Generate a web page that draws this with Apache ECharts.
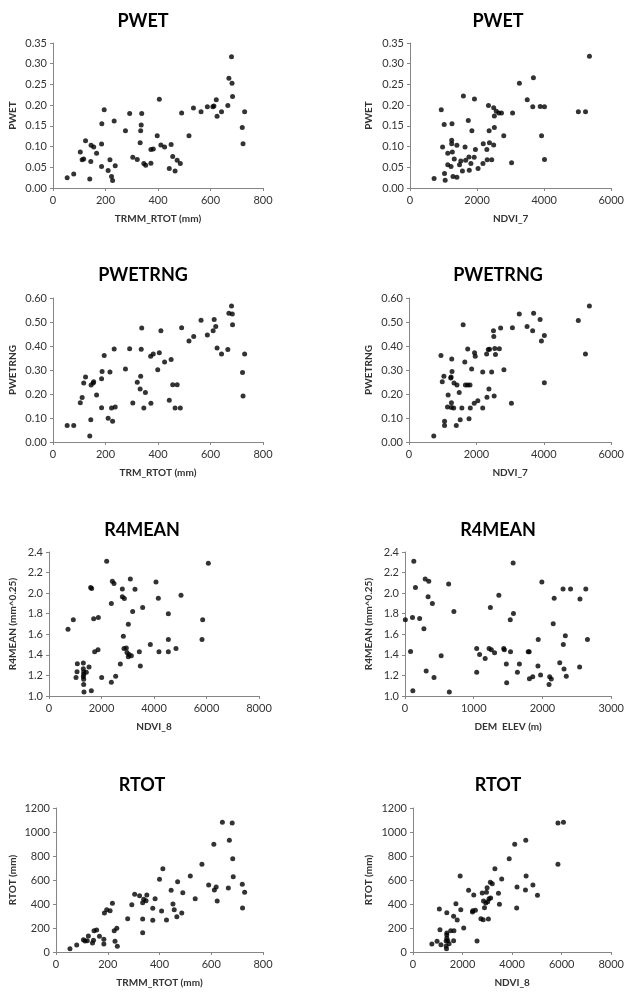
<!DOCTYPE html>
<html>
<head>
<meta charset="utf-8">
<script src="https://cdn.jsdelivr.net/npm/echarts@6/dist/echarts.min.js"></script>
<style>
html, body { margin: 0; padding: 0; background: #fff; }
#main { width: 627px; height: 992px; }
</style>
</head>
<body>
<div id="main"></div>
<script>
// panel titles and axis names
var titles = ['PWET', 'PWET', 'PWETRNG', 'PWETRNG', 'R4MEAN', 'R4MEAN', 'RTOT', 'RTOT'];
var xNames = ['TRMM_RTOT (mm)', 'NDVI_7', 'TRM_RTOT (mm)', 'NDVI_7', 'NDVI_8', 'DEM  ELEV (m)', 'TRMM_RTOT (mm)', 'NDVI_8'];
var yNames = ['PWET', 'PWET', 'PWETRNG', 'PWETRNG', 'R4MEAN (mm^0.25)', 'R4MEAN (mm^0.25)', 'RTOT (mm)', 'RTOT (mm)'];

// [x, y] points
var pwetVsTrmm = [
    [54,0.025],[79,0.034],[104,0.087],[111,0.068],[117,0.070],[124,0.114],[140,0.022],[144,0.064],
    [145,0.103],[155,0.099],[166,0.084],[185,0.052],[185,0.106],[186,0.155],[195,0.189],[210,0.042],
    [217,0.068],[223,0.028],[227,0.018],[233,0.162],[237,0.054],[276,0.138],[292,0.180],[304,0.074],
    [321,0.069],[332,0.109],[334,0.138],[336,0.152],[338,0.180],[346,0.059],[353,0.055],[373,0.060],
    [373,0.093],[382,0.094],[397,0.126],[405,0.214],[411,0.104],[425,0.099],[443,0.047],[450,0.105],
    [456,0.076],[465,0.041],[473,0.067],[485,0.059],[490,0.181],[518,0.126],[535,0.193],[564,0.184],
    [588,0.196],[609,0.196],[613,0.198],[622,0.213],[625,0.173],[642,0.184],[666,0.199],[670,0.265],
    [680,0.317],[682,0.253],[684,0.221],[721,0.146],[724,0.107],[730,0.184]
];
var pwetVsNdvi7 = [
    [718,0.023],[932,0.189],[971,0.099],[1019,0.153],[1029,0.035],[1049,0.019],[1126,0.084],[1126,0.056],
    [1223,0.052],[1243,0.115],[1243,0.107],[1252,0.155],[1262,0.087],[1282,0.028],[1320,0.070],[1398,0.103],
    [1398,0.026],[1476,0.056],[1515,0.065],[1563,0.041],[1592,0.222],[1641,0.099],[1660,0.067],[1738,0.163],
    [1757,0.075],[1767,0.043],[1815,0.059],[1845,0.138],[1913,0.074],[1922,0.215],[1951,0.093],[2029,0.047],
    [2175,0.059],[2184,0.107],[2291,0.093],[2301,0.068],[2340,0.199],[2359,0.138],[2369,0.109],[2437,0.068],
    [2495,0.194],[2495,0.104],[2515,0.146],[2515,0.174],[2573,0.185],[2650,0.181],[2728,0.181],[2796,0.126],
    [3029,0.061],[3058,0.181],[3262,0.253],[3495,0.213],[3660,0.196],[3680,0.266],[3883,0.197],[3922,0.126],
    [4010,0.196],[4010,0.069],[5019,0.184],[5233,0.184],[5350,0.318]
];
var pwetrngVsTrm = [
    [54,0.069],[79,0.069],[104,0.164],[111,0.185],[117,0.246],[124,0.271],[140,0.025],[144,0.093],
    [145,0.238],[153,0.246],[155,0.251],[166,0.196],[185,0.264],[185,0.143],[187,0.294],[195,0.360],
    [210,0.099],[217,0.292],[223,0.142],[227,0.086],[233,0.388],[237,0.146],[276,0.304],[292,0.389],
    [304,0.163],[321,0.249],[332,0.221],[334,0.274],[336,0.386],[338,0.475],[346,0.142],[352,0.206],
    [372,0.357],[373,0.161],[382,0.367],[399,0.301],[405,0.372],[411,0.464],[425,0.333],[443,0.174],
    [450,0.344],[456,0.239],[465,0.142],[473,0.239],[485,0.142],[490,0.476],[518,0.421],[536,0.440],
    [564,0.507],[588,0.446],[610,0.464],[614,0.510],[620,0.481],[625,0.392],[642,0.367],[666,0.385],
    [670,0.536],[680,0.567],[683,0.533],[684,0.489],[722,0.290],[724,0.192],[730,0.367]
];
var pwetrngVsNdvi7 = [
    [735,0.025],[948,0.360],[987,0.251],[1035,0.274],[1055,0.086],[1055,0.069],[1161,0.196],[1142,0.146],
    [1239,0.267],[1248,0.271],[1258,0.164],[1258,0.144],[1268,0.346],[1277,0.294],[1326,0.142],[1335,0.246],
    [1403,0.069],[1423,0.238],[1490,0.206],[1519,0.093],[1568,0.142],[1606,0.489],[1655,0.333],[1674,0.238],
    [1742,0.388],[1742,0.238],[1781,0.097],[1810,0.238],[1819,0.142],[1858,0.304],[1935,0.161],[1945,0.372],
    [1965,0.357],[2042,0.172],[2187,0.292],[2187,0.142],[2303,0.367],[2313,0.186],[2352,0.385],[2371,0.221],
    [2390,0.386],[2452,0.292],[2506,0.464],[2516,0.440],[2526,0.192],[2545,0.390],[2565,0.365],[2681,0.389],
    [2719,0.475],[2816,0.301],[3039,0.161],[3068,0.476],[3271,0.533],[3503,0.481],[3668,0.464],[3697,0.536],
    [3890,0.510],[3929,0.421],[4016,0.444],[4016,0.247],[5023,0.506],[5235,0.367],[5352,0.567]
];
var r4meanVsNdvi8 = [
    [724,1.650],[927,1.741],[1029,1.181],[1067,1.236],[1079,1.314],[1308,1.320],[1321,1.233],[1308,1.265],
    [1321,1.210],[1321,1.162],[1321,1.113],[1333,1.039],[1308,1.188],[1422,1.230],[1524,1.281],[1587,2.054],
    [1625,2.044],[1613,1.052],[1702,1.750],[1740,1.430],[1867,1.450],[1879,1.763],[2006,1.181],[2197,2.309],
    [2375,1.899],[2375,1.133],[2413,2.115],[2476,2.093],[2540,1.191],[2717,1.310],[2794,2.041],[2794,1.964],
    [2832,1.582],[2857,1.462],[2870,1.947],[2946,1.466],[2971,1.424],[3022,1.698],[3022,1.382],[3048,1.404],
    [3098,2.138],[3137,1.391],[3187,1.821],[3276,2.038],[3441,1.430],[3479,1.291],[3568,1.860],[3860,1.501],
    [4076,2.109],[4165,1.951],[4190,1.430],[4546,1.799],[4546,1.550],[4546,1.430],[4838,1.462],[5029,1.980],
    [5829,1.550],[5854,1.741],[6070,2.290]
];
var r4meanVsDem = [
    [5,1.741],[81,1.433],[114,1.052],[109,1.763],[128,2.309],[152,2.054],[213,1.753],[275,1.653],
    [294,2.138],[308,1.242],[336,1.964],[346,2.115],[398,1.899],[422,1.181],[526,1.391],[635,2.090],
    [645,1.039],[711,1.821],[1043,1.462],[1043,1.230],[1085,1.404],[1166,1.365],[1223,1.462],[1242,1.860],
    [1256,1.450],[1303,1.420],[1365,1.980],[1436,1.462],[1445,1.450],[1474,1.310],[1479,1.129],[1531,1.741],
    [1535,1.430],[1573,2.293],[1578,1.802],[1635,1.230],[1664,1.310],[1792,1.430],[1806,1.430],[1810,1.168],
    [1858,1.188],[1934,1.291],[1938,1.550],[1972,1.204],[1991,2.109],[2095,1.113],[2104,1.188],[2128,1.165],
    [2156,1.702],[2170,1.951],[2251,1.323],[2299,2.041],[2303,1.501],[2313,1.262],[2332,1.585],[2346,1.191],
    [2408,2.041],[2540,1.281],[2545,1.944],[2630,2.041],[2654,1.550]
];
var rtotVsTrmm = [
    [54,28],[80,58],[106,103],[112,92],[121,94],[125,133],[141,75],[145,97],
    [147,178],[157,183],[168,131],[185,106],[185,67],[187,325],[196,353],[209,344],
    [218,406],[225,178],[228,89],[235,197],[237,47],[277,278],[293,394],[304,481],
    [323,469],[335,275],[335,161],[335,411],[339,439],[348,428],[351,475],[374,364],
    [374,264],[383,444],[400,606],[408,342],[413,694],[427,267],[445,514],[452,400],
    [457,353],[470,586],[467,294],[486,325],[490,494],[519,633],[538,444],[564,731],
    [590,558],[610,897],[612,517],[619,542],[623,425],[643,1081],[666,533],[670,931],
    [681,1075],[683,778],[685,628],[720,564],[721,367],[729,497]
];
var rtotVsNdvi8 = [
    [761,67],[971,89],[1062,358],[1088,186],[1128,61],[1338,92],[1338,50],[1351,28],
    [1364,158],[1364,142],[1364,114],[1364,328],[1403,94],[1456,69],[1521,178],[1639,297],
    [1639,94],[1652,178],[1731,403],[1784,267],[1902,633],[1928,353],[2046,200],[2243,514],
    [2400,333],[2413,344],[2452,475],[2518,347],[2584,92],[2741,278],[2793,492],[2833,269],
    [2846,425],[2885,369],[2938,408],[2964,497],[2990,536],[3016,419],[3043,275],[3069,444],
    [3121,581],[3134,450],[3200,569],[3305,694],[3449,489],[3489,397],[3580,608],[3882,778],
    [4105,897],[4184,367],[4197,542],[4538,517],[4551,931],[4564,633],[4839,558],[5023,472],
    [5849,731],[5849,1075],[6072,1081]
];

// axis ranges: [min, max, interval]
var xRanges = [[0,800,200],[0,6000,2000],[0,800,200],[0,6000,2000],[0,8000,2000],[0,3000,1000],[0,800,200],[0,8000,2000]];
var yRanges = [[0,0.35,0.05],[0,0.35,0.05],[0,0.6,0.1],[0,0.6,0.1],[1.0,2.4,0.2],[1.0,2.4,0.2],[0,1200,200],[0,1200,200]];
var yDigits = [2, 2, 2, 2, 1, 1, 0, 0];
var panelData = [pwetVsTrmm, pwetVsNdvi7, pwetrngVsTrm, pwetrngVsNdvi7, r4meanVsNdvi8, r4meanVsDem, rtotVsTrmm, rtotVsNdvi8];

// layout of each panel (px)
var boxes = [
    {left: 53,  top: 43,  width: 210, height: 145, titleX: 138, titleY: 7,   yGap: 35},
    {left: 410, top: 43,  width: 206, height: 145, titleX: 493, titleY: 7,   yGap: 36},
    {left: 53,  top: 298, width: 210, height: 144, titleX: 138, titleY: 261, yGap: 35},
    {left: 409, top: 298, width: 207, height: 144, titleX: 493, titleY: 261, yGap: 35},
    {left: 49,  top: 552, width: 210, height: 144, titleX: 137, titleY: 516, yGap: 31},
    {left: 405, top: 552, width: 211, height: 144, titleX: 493, titleY: 516, yGap: 31},
    {left: 56,  top: 808, width: 207, height: 144, titleX: 137, titleY: 771, yGap: 38},
    {left: 413, top: 808, width: 203, height: 144, titleX: 493, titleY: 771, yGap: 39}
];

var font = 'Lato';
var axisGrey = '#868686';
var textGrey = '#333';

var chart = echarts.init(document.getElementById('main'));

var option = {
    backgroundColor: '#fff',
    animation: false,
    title: [],
    grid: [],
    xAxis: [],
    yAxis: [],
    series: []
};

boxes.forEach(function (b, i) {
    option.title.push({
        text: titles[i],
        left: b.titleX,
        top: b.titleY,
        textAlign: 'center',
        textStyle: {fontFamily: font, fontSize: 18, fontWeight: 'bold', color: '#000'}
    });
    option.grid.push({left: b.left, top: b.top, width: b.width, height: b.height, containLabel: false});
    option.xAxis.push({
        type: 'value',
        gridIndex: i,
        min: xRanges[i][0],
        max: xRanges[i][1],
        interval: xRanges[i][2],
        name: xNames[i],
        nameLocation: 'middle',
        nameGap: 26,
        nameTextStyle: {fontFamily: font, fontSize: 10, fontWeight: 'bold', color: textGrey},
        axisLine: {lineStyle: {color: axisGrey, width: 1}},
        axisTick: {show: true, length: 3, lineStyle: {color: axisGrey}},
        axisLabel: {
            fontFamily: font, fontSize: 11, color: textGrey, margin: 7,
            formatter: function (v) { return String(v); }
        },
        splitLine: {show: false}
    });
    option.yAxis.push({
        type: 'value',
        gridIndex: i,
        min: yRanges[i][0],
        max: yRanges[i][1],
        interval: yRanges[i][2],
        name: yNames[i],
        nameLocation: 'middle',
        nameRotate: 90,
        nameGap: b.yGap,
        nameTextStyle: {fontFamily: font, fontSize: 10, fontWeight: 'bold', color: textGrey},
        axisLine: {show: true, lineStyle: {color: axisGrey, width: 1}},
        axisTick: {show: true, length: 3, lineStyle: {color: axisGrey}},
        axisLabel: {
            fontFamily: font, fontSize: 11, color: textGrey, margin: 6,
            formatter: (function (d) {
                return function (v) { return v.toFixed(d); };
            })(yDigits[i])
        },
        splitLine: {show: false}
    });
    option.series.push({
        type: 'scatter',
        xAxisIndex: i,
        yAxisIndex: i,
        symbol: 'circle',
        symbolSize: 5,
        itemStyle: {color: '#000'},
        data: panelData[i]
    });
});

chart.setOption(option);
</script>
</body>
</html>
